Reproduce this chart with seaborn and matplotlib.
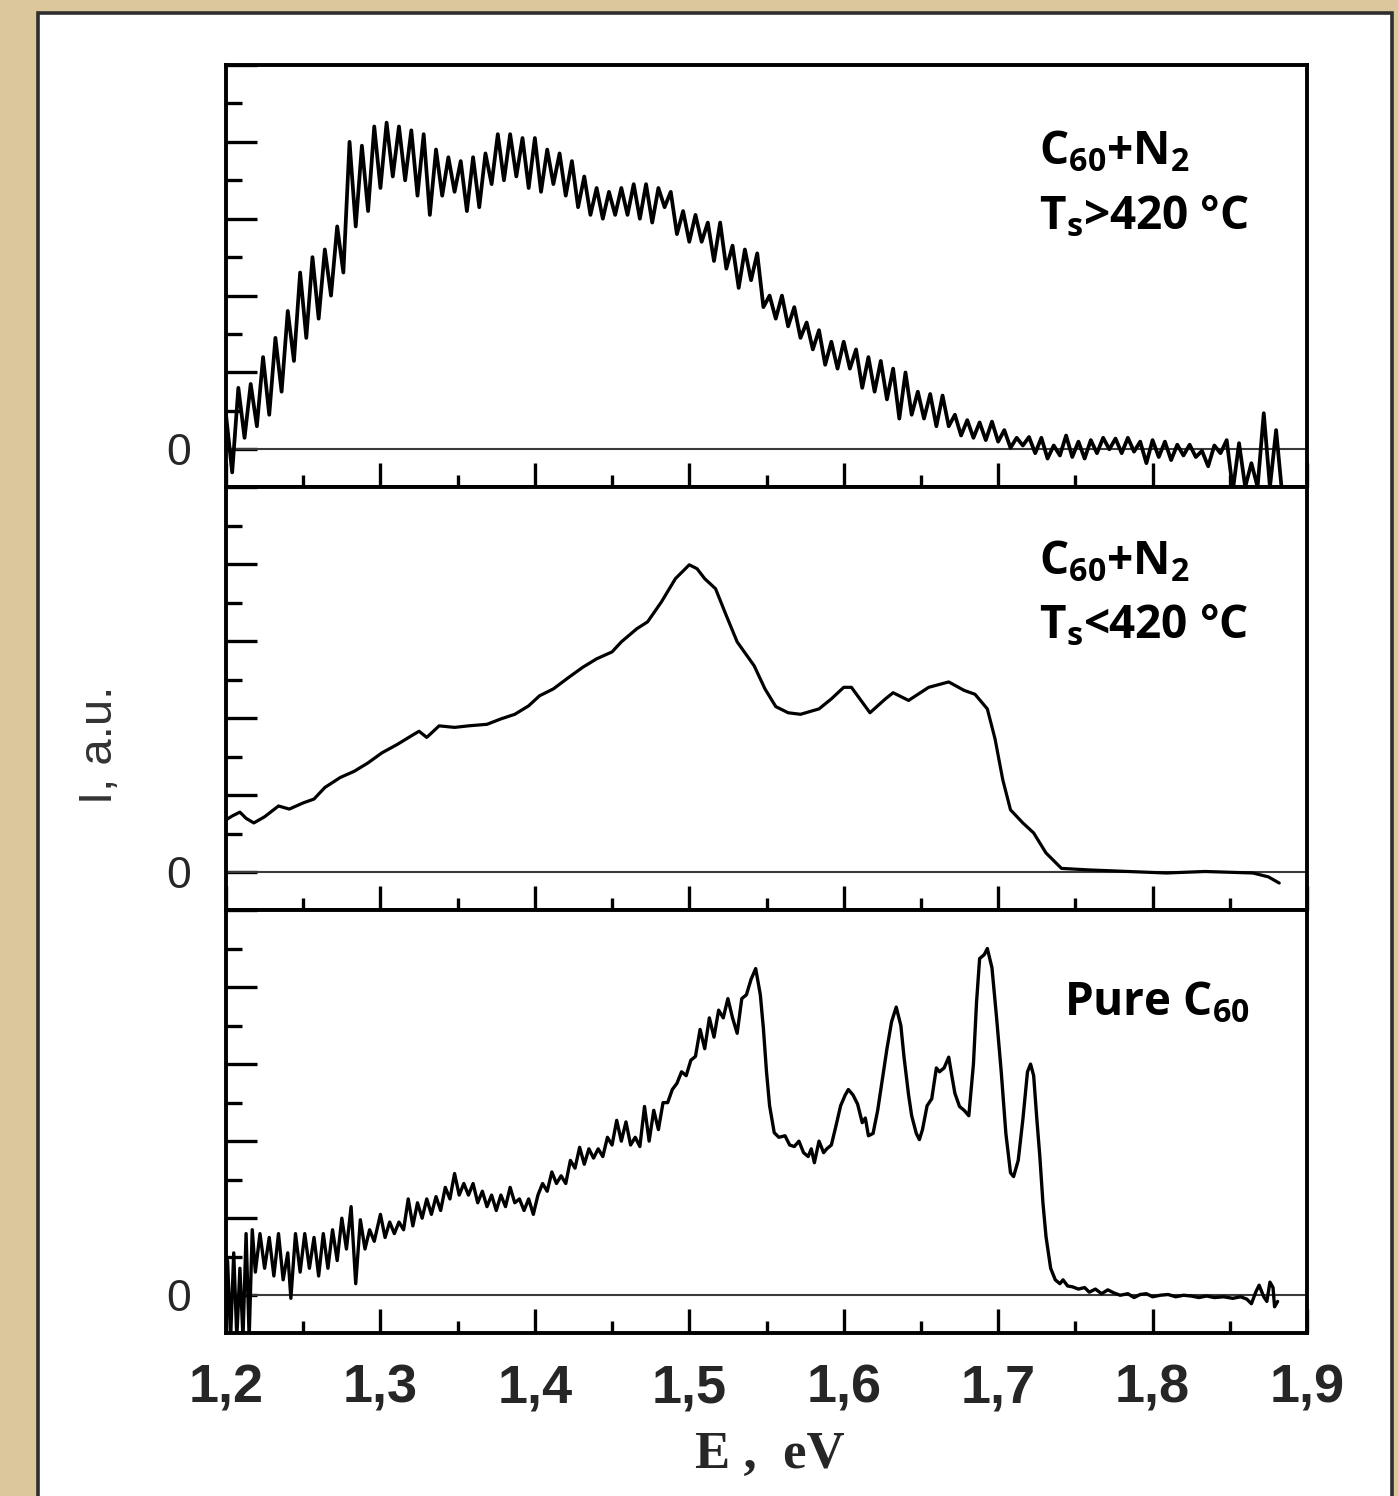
import numpy as np
import pandas as pd
import matplotlib
matplotlib.use("Agg")
import matplotlib.pyplot as plt
import seaborn as sns
from matplotlib.patches import Rectangle
from matplotlib.ticker import MultipleLocator, FixedLocator, FixedFormatter

# ---------------- data ----------------
# Top panel: C60+N2, Ts>420 C  (uniform grid, step 0.004 eV, from 1.200)
top_start = 1.200
top_step = 0.004
top_y = [
    0.45, -0.30, 0.80, 0.15, 0.85, 0.30, 1.20, 0.45, 1.45, 0.75,
    1.80, 1.15, 2.30, 1.45, 2.50, 1.70, 2.60, 2.00, 2.90, 2.30,
    4.00, 2.90, 3.95, 3.10, 4.20, 3.40, 4.25, 3.55, 4.20, 3.50,
    4.15, 3.30, 4.10, 3.05, 3.90, 3.30, 3.80, 3.35, 3.75, 3.10,
    3.80, 3.15, 3.85, 3.45, 4.10, 3.50, 4.10, 3.55, 4.05, 3.40,
    4.05, 3.35, 3.90, 3.45, 3.85, 3.30, 3.75, 3.15, 3.55, 3.05,
    3.40, 3.00, 3.35, 3.05, 3.40, 3.05, 3.45, 3.00, 3.45, 2.95,
    3.40, 3.15, 3.35, 2.80, 3.10, 2.70, 3.05, 2.70, 2.95, 2.45,
    2.95, 2.35, 2.65, 2.10, 2.60, 2.20, 2.55, 1.85, 2.00, 1.70,
    2.00, 1.60, 1.85, 1.45, 1.65, 1.30, 1.55, 1.10, 1.40, 1.05,
    1.40, 1.05, 1.30, 0.80, 1.20, 0.75, 1.15, 0.65, 1.05, 0.40,
    1.00, 0.45, 0.75, 0.40, 0.72, 0.30, 0.70, 0.30, 0.45, 0.18,
    0.38, 0.15, 0.35, 0.12, 0.36, 0.10, 0.25, 0.02, 0.15, 0.05,
    0.16, -0.05, 0.15, -0.12, 0.05, -0.08, 0.18, -0.10, 0.10, -0.12,
    0.12, -0.05, 0.15, 0.00, 0.14, -0.05, 0.15, -0.03, 0.10, -0.18,
    0.12, -0.10, 0.10, -0.14, 0.06, -0.08, 0.06, -0.10, -0.02, -0.22,
    0.05, -0.05, 0.12, -0.53, 0.08, -0.49, -0.18, -0.49, 0.47, -0.49,
    0.25, -0.60,
]

# Middle panel: C60+N2, Ts<420 C
mid_x = [1.200, 1.204, 1.209, 1.213, 1.218, 1.225, 1.234, 1.241, 1.250, 1.257,
         1.264, 1.274, 1.283, 1.292, 1.301, 1.311, 1.320, 1.325, 1.330, 1.338,
         1.348, 1.357, 1.369, 1.378, 1.387, 1.396, 1.403, 1.412, 1.422, 1.431,
         1.440, 1.450, 1.456, 1.466, 1.473, 1.482, 1.491, 1.500, 1.505, 1.510,
         1.517, 1.524, 1.531, 1.542, 1.549, 1.556, 1.564, 1.572, 1.584, 1.592,
         1.600, 1.605, 1.617, 1.627, 1.632, 1.642, 1.655, 1.668, 1.678, 1.685,
         1.693, 1.698, 1.703, 1.708, 1.716, 1.723, 1.731, 1.741, 1.759, 1.784,
         1.809, 1.834, 1.865, 1.875, 1.882]
mid_y = [0.68, 0.73, 0.78, 0.70, 0.64, 0.72, 0.86, 0.82, 0.90, 0.95,
         1.10, 1.23, 1.31, 1.42, 1.55, 1.66, 1.77, 1.83, 1.75, 1.90,
         1.88, 1.90, 1.92, 1.99, 2.05, 2.16, 2.29, 2.38, 2.53, 2.66,
         2.77, 2.86, 2.99, 3.16, 3.25, 3.51, 3.81, 3.99, 3.94, 3.81,
         3.68, 3.33, 2.99, 2.68, 2.38, 2.15, 2.07, 2.05, 2.12, 2.25,
         2.40, 2.40, 2.07, 2.25, 2.33, 2.23, 2.40, 2.47, 2.36, 2.31,
         2.12, 1.73, 1.20, 0.81, 0.64, 0.51, 0.25, 0.05, 0.03, 0.01,
         -0.01, 0.01, -0.01, -0.06, -0.14]

# Bottom panel: pure C60
bot_x = [1.200, 1.201, 1.203, 1.205, 1.207, 1.209, 1.211, 1.213, 1.215, 1.217,
         1.219, 1.222, 1.225, 1.228, 1.231, 1.234, 1.237, 1.240, 1.242, 1.245,
         1.248, 1.251, 1.254, 1.257, 1.260, 1.263, 1.266, 1.269, 1.272, 1.275,
         1.278, 1.281, 1.284, 1.287, 1.290, 1.293, 1.296, 1.300, 1.303, 1.306,
         1.309, 1.312, 1.315, 1.318, 1.321, 1.324, 1.327, 1.330, 1.333, 1.336,
         1.339, 1.342, 1.345, 1.348, 1.351, 1.354, 1.357, 1.360, 1.363, 1.366,
         1.369, 1.372, 1.375, 1.378, 1.381, 1.384, 1.387, 1.390, 1.393, 1.396,
         1.399, 1.402, 1.405, 1.408, 1.411, 1.414, 1.417, 1.420, 1.423, 1.426,
         1.429, 1.432, 1.435, 1.438, 1.441, 1.444, 1.447, 1.450, 1.453, 1.456,
         1.459, 1.462, 1.465, 1.468, 1.471, 1.474, 1.477, 1.480, 1.483, 1.486,
         1.489, 1.492, 1.495, 1.498, 1.501, 1.504, 1.507, 1.510, 1.513, 1.516,
         1.519, 1.522, 1.525, 1.528, 1.531, 1.534, 1.537, 1.540, 1.543, 1.546,
         1.548, 1.550, 1.552, 1.555, 1.558, 1.562, 1.565, 1.568, 1.571, 1.574,
         1.577, 1.579, 1.581, 1.584, 1.587, 1.589, 1.592, 1.595, 1.598, 1.601,
         1.603, 1.606, 1.609, 1.612, 1.614, 1.616, 1.619, 1.622, 1.625, 1.628,
         1.631, 1.634, 1.637, 1.639, 1.642, 1.644, 1.647, 1.649, 1.651, 1.654,
         1.657, 1.660, 1.662, 1.665, 1.668, 1.670, 1.672, 1.675, 1.678, 1.681,
         1.684, 1.686, 1.688, 1.691, 1.693, 1.696, 1.699, 1.702, 1.705, 1.708,
         1.710, 1.713, 1.716, 1.719, 1.721, 1.723, 1.725, 1.727, 1.729, 1.731,
         1.734, 1.737, 1.740, 1.742, 1.745, 1.748, 1.752, 1.756, 1.759, 1.763,
         1.767, 1.771, 1.775, 1.779, 1.784, 1.788, 1.792, 1.796, 1.800, 1.805,
         1.810, 1.815, 1.820, 1.825, 1.830, 1.835, 1.840, 1.846, 1.852, 1.857,
         1.861, 1.864, 1.867, 1.869, 1.872, 1.874, 1.876, 1.878, 1.879, 1.881]
bot_y = [-0.55, 0.45, -0.55, 0.55, -0.55, 0.35, -0.55, 0.80, -0.55, 0.85,
         0.30, 0.80, 0.35, 0.75, 0.25, 0.80, 0.20, 0.55, -0.04, 0.80,
         0.30, 0.80, 0.35, 0.75, 0.25, 0.80, 0.35, 0.85, 0.45, 1.00,
         0.60, 1.15, 0.15, 0.98, 0.60, 0.85, 0.70, 1.05, 0.75, 0.95,
         0.80, 0.95, 0.85, 1.25, 0.90, 1.20, 1.00, 1.25, 1.05, 1.28,
         1.10, 1.40, 1.25, 1.58, 1.30, 1.45, 1.30, 1.45, 1.20, 1.35,
         1.15, 1.30, 1.10, 1.30, 1.15, 1.40, 1.20, 1.25, 1.10, 1.25,
         1.05, 1.30, 1.45, 1.35, 1.60, 1.45, 1.55, 1.45, 1.75, 1.65,
         1.92, 1.70, 1.90, 1.78, 1.90, 1.80, 2.05, 1.95, 2.27, 2.00,
         2.25, 1.95, 2.05, 1.93, 2.45, 2.00, 2.40, 2.15, 2.50, 2.50,
         2.67, 2.75, 2.90, 2.85, 3.05, 3.10, 3.45, 3.20, 3.60, 3.35,
         3.70, 3.60, 3.85, 3.60, 3.40, 3.85, 3.90, 4.10, 4.24, 3.90,
         3.46, 2.90, 2.46, 2.11, 2.05, 2.07, 1.95, 1.93, 2.00, 1.85,
         1.80, 1.90, 1.72, 2.00, 1.85, 1.90, 1.95, 2.20, 2.46, 2.60,
         2.67, 2.60, 2.48, 2.24, 2.30, 2.07, 2.10, 2.40, 2.80, 3.20,
         3.55, 3.74, 3.50, 3.10, 2.60, 2.33, 2.10, 2.02, 2.15, 2.46,
         2.55, 2.95, 2.90, 2.95, 3.09, 2.85, 2.62, 2.45, 2.40, 2.33,
         3.00, 3.80, 4.37, 4.42, 4.50, 4.25, 3.60, 2.90, 2.10, 1.59,
         1.54, 1.75, 2.28, 2.90, 3.00, 2.85, 2.30, 1.80, 1.20, 0.76,
         0.35, 0.20, 0.15, 0.20, 0.12, 0.11, 0.08, 0.10, 0.04, 0.08,
         0.02, 0.07, 0.03, 0.00, 0.02, -0.03, 0.01, 0.02, -0.02, 0.00,
         0.01, -0.02, 0.00, -0.01, -0.03, -0.01, -0.03, -0.02, -0.04, -0.02,
         -0.05, -0.11, 0.05, 0.13, -0.02, -0.08, 0.17, 0.10, -0.15, -0.08]

x_ticks = [1.2, 1.3, 1.4, 1.5, 1.6, 1.7, 1.8, 1.9]
x_tick_labels = ["1,2", "1,3", "1,4", "1,5", "1,6", "1,7", "1,8", "1,9"]
y_major = [0, 1, 2, 3, 4, 5]
y_labels = ["0", "", "", "", "", ""]

# ---------------- style ----------------
sns.set_style("ticks")
plt.rcParams["font.family"] = ["Liberation Sans", "DejaVu Sans"]
plt.rcParams["mathtext.fontset"] = "custom"
plt.rcParams["mathtext.rm"] = "Open Sans:bold"
plt.rcParams["mathtext.it"] = "Open Sans:bold"
plt.rcParams["mathtext.bf"] = "Open Sans:bold"

W, H = 1398, 1496
fig = plt.figure(figsize=(W / 100, H / 100), dpi=100)
fig.patch.set_facecolor("#dcc69c")

# inner white sheet with dark border
fig.add_artist(Rectangle((38 / W, -0.02), (1392 - 38) / W, 1.02 - 13 / H,
                         transform=fig.transFigure, facecolor="white",
                         edgecolor="#2e2e2e", linewidth=2.6, zorder=0))

left = 226 / W
width = (1307 - 226) / W
panel_px = [(65, 487), (487, 910), (910, 1333)]
axes = []
for (t, b) in panel_px:
    ax = fig.add_axes([left, 1 - b / H, width, (b - t) / H])
    axes.append(ax)

top_x = [round(top_start + top_step * i, 4) for i in range(len(top_y))]
series = [
    pd.DataFrame({"E": top_x, "I": top_y}),
    pd.DataFrame({"E": mid_x, "I": mid_y}),
    pd.DataFrame({"E": bot_x, "I": bot_y}),
]
widths = [2.7, 2.3, 2.4]

for i, (ax, df) in enumerate(zip(axes, series)):
    ax.set_facecolor("white")
    ax.axhline(0, color="#3a3a3a", lw=1.5, zorder=1)
    sns.lineplot(data=df, x="E", y="I", ax=ax, color="black",
                 linewidth=widths[i], estimator=None, sort=False, zorder=2)
    ax.set_xlim(1.2, 1.9)
    ax.set_ylim(-0.49, 5.0)
    ax.set_xlabel("")
    ax.set_ylabel("")
    for s in ax.spines.values():
        s.set_linewidth(2.8)
        s.set_color("black")
        s.set_visible(True)
    ax.xaxis.set_major_locator(FixedLocator(x_ticks))
    ax.xaxis.set_minor_locator(MultipleLocator(0.05))
    ax.yaxis.set_major_locator(FixedLocator(y_major))
    ax.yaxis.set_major_formatter(FixedFormatter(y_labels))
    ax.yaxis.set_minor_locator(MultipleLocator(0.5))
    ax.tick_params(axis="both", which="both", direction="in",
                   top=False, right=False, color="black")
    ax.tick_params(axis="x", which="major", length=17, width=2.4)
    ax.tick_params(axis="x", which="minor", length=8.5, width=2.4)
    ax.tick_params(axis="y", which="major", length=22, width=2.4,
                   labelsize=32, pad=25)
    ax.tick_params(axis="y", which="minor", length=11.5, width=2.4)
    if i < 2:
        ax.tick_params(axis="x", which="both", labelbottom=False)
    else:
        ax.set_xticklabels(x_tick_labels)
        ax.tick_params(axis="x", which="major", labelsize=39, pad=22)
        for lab in ax.get_xticklabels():
            lab.set_fontweight("bold")

ann_kw = dict(fontsize=33, fontfamily="Open Sans", fontweight="bold",
              color="black", ha="left", va="baseline")
axes[0].text(0.752, 0.765, r"C$_{60}$+N$_{2}$", transform=axes[0].transAxes, **ann_kw)
axes[0].text(0.752, 0.610, r"T$_{\mathrm{s}}$>420 °C", transform=axes[0].transAxes, **ann_kw)
axes[1].text(0.752, 0.794, r"C$_{60}$+N$_{2}$", transform=axes[1].transAxes, **ann_kw)
axes[1].text(0.752, 0.643, r"T$_{\mathrm{s}}$<420 °C", transform=axes[1].transAxes, **ann_kw)
axes[2].text(0.775, 0.752, r"Pure C$_{60}$", transform=axes[2].transAxes, **ann_kw)

fig.text(770 / W, 1 - 1455 / H, "E ,  eV", fontsize=38, fontweight="bold",
         fontfamily="Liberation Serif", ha="center", va="center")
fig.text(100 / W, 1 - 745 / H, "I, a.u.", fontsize=34, rotation=90,
         color="#333333", ha="center", va="center")

fig.savefig("out.png", dpi=100, facecolor=fig.get_facecolor())
